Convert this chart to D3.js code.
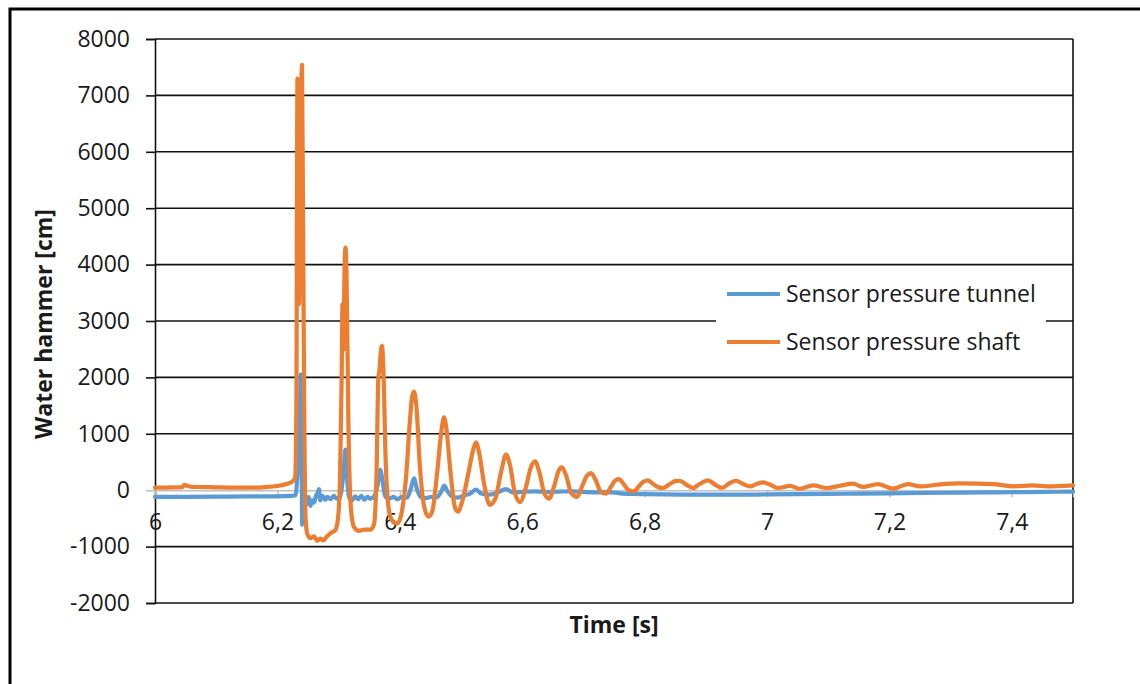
<!DOCTYPE html>
<html>
<head>
<meta charset="utf-8">
<script src="https://cdn.jsdelivr.net/npm/d3@7"></script>
<style>
  html, body { margin: 0; padding: 0; background: #fff; }
  svg { display: block; }
  text { font-family: "Open Sans", "Liberation Sans", sans-serif; fill: #1a1a1a; }
</style>
</head>
<body>
<svg id="chart" width="1140" height="684"></svg>
<script>
// Time axis ticks and their comma-decimal labels
const xTicks = [6, 6.2, 6.4, 6.6, 6.8, 7, 7.2, 7.4];
const xTickLabels = ["6", "6,2", "6,4", "6,6", "6,8", "7", "7,2", "7,4"];
const yTicks = [-2000, -1000, 0, 1000, 2000, 3000, 4000, 5000, 6000, 7000, 8000];

const seriesNames = ["Sensor pressure tunnel", "Sensor pressure shaft"];
const seriesColors = ["#5B9BD5", "#ED7D31"];

// Sensor pressure tunnel: time [s] and water hammer [cm]
const tunnelTime = [
  6.000, 6.050, 6.100, 6.150, 6.200, 6.225, 6.2300, 6.2330, 6.2360, 6.2380,
  6.2395, 6.2405, 6.2420, 6.2450, 6.2480, 6.2510, 6.2540, 6.2570, 6.2600, 6.2630,
  6.2660, 6.2680, 6.2700, 6.2740, 6.2780, 6.2820, 6.2870, 6.2920, 6.2970, 6.3020,
  6.3060, 6.3090, 6.3110, 6.3140, 6.3170, 6.3220, 6.3270, 6.3320, 6.3370, 6.3420,
  6.3470, 6.3520, 6.3580, 6.3630, 6.3680, 6.3720, 6.3760, 6.3820, 6.3900, 6.3960,
  6.4040, 6.4120, 6.4180, 6.4232, 6.4280, 6.4340, 6.4420, 6.4520, 6.4600, 6.4680,
  6.4725, 6.4780, 6.4850, 6.4950, 6.5050, 6.5150, 6.5245, 6.5330, 6.5450, 6.5600,
  6.5735, 6.5850, 6.6000, 6.6200, 6.6400, 6.6600, 6.6800, 6.7000, 6.7200, 6.7400,
  6.7600, 6.7800, 6.8000, 6.8300, 6.8600, 6.9000, 6.9500, 7.0000, 7.0500, 7.1000,
  7.1500, 7.2000, 7.2500, 7.3000, 7.3500, 7.4000, 7.4500, 7.5000
];
const tunnelValues = [
  -120, -118, -115, -110, -108, -100, -80, 300, 600, 2050,
  800, -610, -300, -150, -250, -120, -280, -180, -220, -100,
  -40, 20, -180, -100, -170, -120, -160, -100, -150, -130,
  100, 450, 720, 200, -120, -180, -110, -160, -100, -170,
  -120, -150, -110, 50, 360, 150, -100, -150, -120, -160,
  -120, -130, 30, 210, 20, -120, -140, -120, -130, -20,
  80, -20, -110, -130, -90, -60, 10, -60, -80, -40,
  20, -40, -30, -20, -30, -25, -20, -30, -40, -35,
  -55, -65, -70, -75, -78, -80, -80, -75, -70, -65,
  -60, -55, -50, -45, -40, -35, -30, -25
];

// Sensor pressure shaft: time [s] and water hammer [cm]
const shaftTime = [
  6.000, 6.030, 6.045, 6.048, 6.052, 6.060, 6.080, 6.100, 6.130, 6.160,
  6.180, 6.200, 6.215, 6.225, 6.2290, 6.2310, 6.2328, 6.2340, 6.2353, 6.2370,
  6.2402, 6.2418, 6.2440, 6.2460, 6.2490, 6.2540, 6.2600, 6.2650, 6.2700, 6.2750,
  6.2800, 6.2870, 6.2950, 6.2990, 6.3023, 6.3050, 6.3064, 6.3080, 6.3095, 6.3113,
  6.3130, 6.3160, 6.3200, 6.3250, 6.3330, 6.3430, 6.3520, 6.3580, 6.3620, 6.3650,
  6.3665, 6.3690, 6.3709, 6.3730, 6.3770, 6.3830, 6.3900, 6.3960, 6.4020, 6.4100,
  6.4170, 6.4200, 6.4232, 6.4270, 6.4330, 6.4400, 6.4470, 6.4530, 6.4600, 6.4680,
  6.4722, 6.4760, 6.4830, 6.4900, 6.4950, 6.5020, 6.5120, 6.5200, 6.5245, 6.5290,
  6.5380, 6.5470, 6.5560, 6.5660, 6.5735, 6.5800, 6.5880, 6.5964, 6.6060, 6.6140,
  6.6209, 6.6280, 6.6360, 6.6438, 6.6530, 6.6590, 6.6650, 6.6720, 6.6800, 6.6895,
  6.6990, 6.7060, 6.7124, 6.7200, 6.7280, 6.7369, 6.7450, 6.7520, 6.7582, 6.7650,
  6.7740, 6.7827, 6.7900, 6.7980, 6.8056, 6.8140, 6.8230, 6.8301, 6.8400, 6.8500,
  6.8578, 6.8680, 6.8791, 6.8900, 6.9036, 6.9150, 6.9265, 6.9380, 6.9493, 6.9610,
  6.9722, 6.9830, 6.9935, 7.0050, 7.0180, 7.0376, 7.0539, 7.0752, 7.0980, 7.1200,
  7.1405, 7.1569, 7.1814, 7.2059, 7.2304, 7.2500, 7.2778, 7.3154, 7.3693, 7.4020,
  7.4346, 7.4575, 7.5000
];
const shaftValues = [
  45, 50, 55, 95, 80, 60, 55, 50, 45, 45,
  55, 75, 110, 160, 220, 1500, 7300, 6600, 3300, 5200,
  7540, 5000, 1200, -500, -780, -850, -820, -900, -860, -890,
  -830, -760, -700, -500, 200, 2000, 3300, 2500, 3800, 4300,
  3800, 1200, -300, -650, -720, -700, -700, -600, 300, 2000,
  2100, 2450, 2560, 2200, 500, -400, -570, -590, -450, 200,
  1300, 1650, 1750, 1500, 400, -300, -470, -380, 200, 1050,
  1290, 1100, 300, -300, -380, -200, 300, 720, 850, 700,
  100, -260, -150, 350, 630, 450, -50, -210, 50, 400,
  510, 320, -50, -150, 100, 330, 405, 250, -50, -120,
  100, 260, 304, 180, -20, -62, 60, 170, 198, 120,
  0, -21, 60, 150, 174, 110, 50, 39, 100, 160,
  168, 100, 39, 110, 174, 100, 39, 120, 168, 110,
  68, 110, 139, 100, 39, 76, 26, 85, 39, 80,
  115, 57, 109, 27, 109, 68, 97, 121, 109, 68,
  85, 68, 85
];

const svg = d3.select("#chart");
const plot = { left: 155, right: 1073, top: 39, bottom: 603 };

const x = d3.scaleLinear().domain([6, 7.5]).range([plot.left, plot.right]);
const y = d3.scaleLinear().domain([-2000, 8000]).range([plot.bottom, plot.top]);

// Outer chart frame
svg.append("rect")
  .attr("x", 10).attr("y", 9)
  .attr("width", 1300).attr("height", 900)
  .attr("fill", "none").attr("stroke", "#000").attr("stroke-width", 3);

// Horizontal gridlines (zero is drawn as the grey category axis)
svg.append("g")
  .selectAll("line")
  .data(yTicks.filter(v => v !== 0))
  .join("line")
  .attr("x1", plot.left).attr("x2", plot.right)
  .attr("y1", d => y(d)).attr("y2", d => y(d))
  .attr("stroke", "#111").attr("stroke-width", 1.6);

// Right edge of the plot area
svg.append("line")
  .attr("x1", plot.right).attr("x2", plot.right)
  .attr("y1", plot.top).attr("y2", plot.bottom)
  .attr("stroke", "#111").attr("stroke-width", 1.6);

// Value axis (plain hyphen for negative numbers)
const yAxis = svg.append("g")
  .attr("transform", `translate(${plot.left},0)`)
  .call(d3.axisLeft(y).tickValues(yTicks).tickSize(9).tickPadding(16).tickFormat(d => String(d)));
yAxis.select(".domain").attr("stroke", "#111").attr("stroke-width", 1.6);
yAxis.selectAll(".tick line").attr("stroke", "#111").attr("stroke-width", 1.6);
yAxis.selectAll(".tick text")
  .style("font-family", '"Open Sans", sans-serif')
  .style("font-size", "23px").attr("fill", "#1a1a1a");

// Time axis crossing at zero
const xAxis = svg.append("g")
  .attr("transform", `translate(0,${y(0)})`)
  .call(d3.axisBottom(x).tickValues(xTicks).tickSize(7).tickPadding(16)
    .tickFormat((d, i) => xTickLabels[i]));
xAxis.select(".domain").attr("stroke", "#bfbfbf").attr("stroke-width", 1.4);
xAxis.selectAll(".tick line").attr("stroke", "#bfbfbf").attr("stroke-width", 1.4);
xAxis.selectAll(".tick text")
  .style("font-family", '"Open Sans", sans-serif')
  .style("font-size", "23px").attr("fill", "#1a1a1a");
yAxis.selectAll(".tick").filter(d => d === 0).select("line").attr("stroke", "#bfbfbf");

// Data lines
const line = d3.line()
  .x(d => x(d[0]))
  .y(d => y(d[1]))
  .curve(d3.curveMonotoneX);

const series = [
  { name: seriesNames[0], color: seriesColors[0], pts: d3.zip(tunnelTime, tunnelValues) },
  { name: seriesNames[1], color: seriesColors[1], pts: d3.zip(shaftTime, shaftValues) }
];

svg.append("g")
  .selectAll("path")
  .data(series)
  .join("path")
  .attr("d", d => line(d.pts))
  .attr("fill", "none")
  .attr("stroke", d => d.color)
  .attr("stroke-width", 4.2)
  .attr("stroke-linejoin", "round")
  .attr("stroke-linecap", "round");

// Legend
const legend = svg.append("g");
legend.append("rect")
  .attr("x", 716).attr("y", 272).attr("width", 330).attr("height", 92)
  .attr("fill", "#fff");
const items = legend.selectAll("g.item")
  .data(series)
  .join("g")
  .attr("class", "item")
  .attr("transform", (d, i) => `translate(0,${294 + i * 48})`);
items.append("line")
  .attr("x1", 727).attr("x2", 780)
  .attr("stroke", d => d.color).attr("stroke-width", 4);
items.append("text")
  .attr("x", 786).attr("dy", "0.35em")
  .style("font-size", "23px")
  .text(d => d.name);

// Axis titles
svg.append("text")
  .attr("x", (plot.left + plot.right) / 2).attr("y", 633)
  .attr("text-anchor", "middle")
  .style("font-size", "23px").style("font-weight", "bold")
  .text("Time [s]");

svg.append("text")
  .attr("transform", `translate(52,324) rotate(-90)`)
  .attr("text-anchor", "middle")
  .style("font-size", "23px").style("font-weight", "bold")
  .text("Water hammer [cm]");
</script>
</body>
</html>
